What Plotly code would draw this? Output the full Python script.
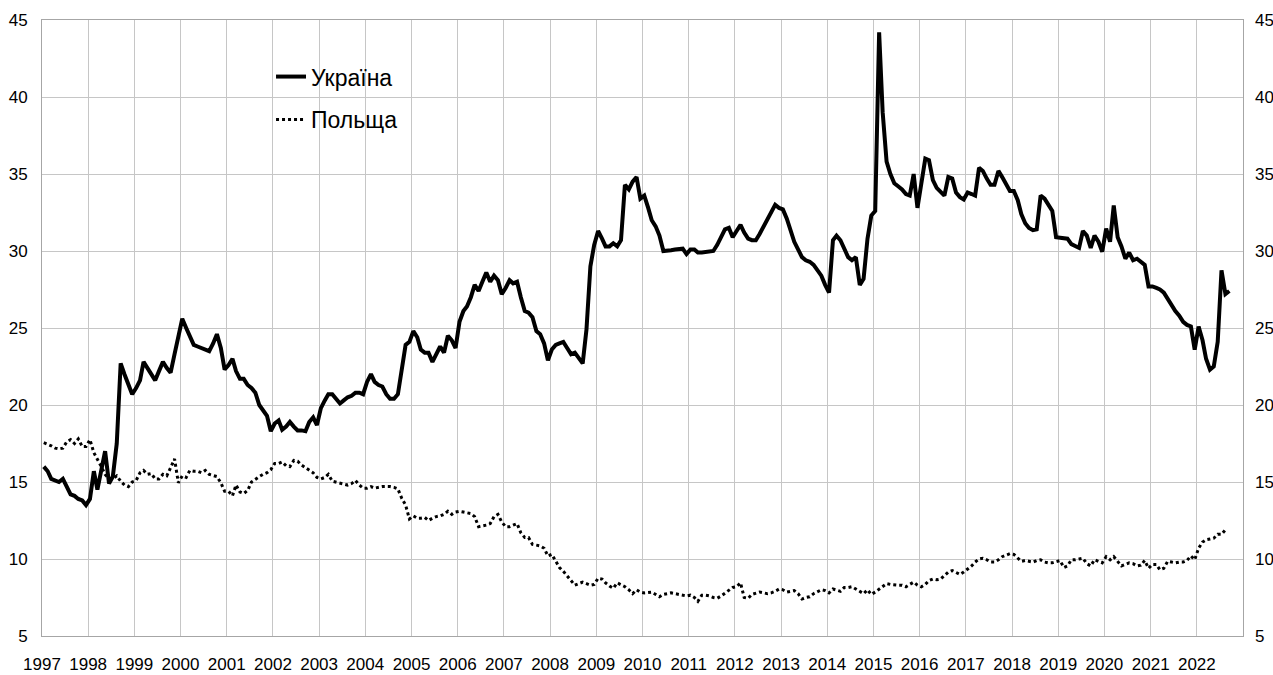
import pandas as pd
import plotly.graph_objects as go

# Monthly values, Jan 1997 onwards
ukraine = [
    16.0, 15.7, 15.2, 15.1, 15.0, 15.2, 14.7, 14.2, 14.1, 13.9, 13.8, 13.5,   # 1997
    13.9, 15.7, 14.5, 15.8, 17.0, 14.9, 15.35, 17.5, 22.7, 22.0, 21.3, 20.7,  # 1998
    21.1, 21.6, 22.8, 22.4, 22.0, 21.6, 22.2, 22.8, 22.4, 22.1, 23.3, 24.4,   # 1999
    25.6, 25.0, 24.4, 23.9, 23.8, 23.7, 23.6, 23.5, 24.0, 24.6, 23.7, 22.3,   # 2000
    22.6, 23.0, 22.2, 21.7, 21.7, 21.3, 21.1, 20.8, 20.0, 19.7, 19.3, 18.3,   # 2001
    18.8, 19.0, 18.4, 18.6, 18.9, 18.6, 18.35, 18.35, 18.3, 18.9, 19.2, 18.7, # 2002
    19.8, 20.3, 20.7, 20.7, 20.4, 20.1, 20.3, 20.5, 20.6, 20.8, 20.8, 20.7,   # 2003
    21.5, 22.0, 21.5, 21.3, 21.2, 20.7, 20.4, 20.4, 20.7, 22.2, 23.9, 24.1,   # 2004
    24.8, 24.4, 23.6, 23.4, 23.4, 22.8, 23.3, 23.8, 23.4, 24.5, 24.2, 23.7,   # 2005
    25.4, 26.1, 26.4, 27.0, 27.8, 27.4, 28.0, 28.6, 28.0, 28.4, 28.1, 27.2,   # 2006
    27.6, 28.1, 27.9, 28.0, 27.0, 26.1, 26.0, 25.7, 24.8, 24.6, 24.0, 22.9,   # 2007
    23.6, 23.9, 24.0, 24.1, 23.7, 23.3, 23.4, 23.1, 22.7, 24.9, 29.0, 30.4,   # 2008
    31.3, 30.8, 30.3, 30.3, 30.5, 30.3, 30.7, 34.3, 34.0, 34.5, 34.8, 33.4,   # 2009
    33.6, 32.8, 32.0, 31.6, 31.0, 30.0, 30.0, 30.05, 30.1, 30.15, 30.15, 29.8,# 2010
    30.1, 30.1, 29.9, 29.9, 29.95, 29.95, 30.0, 30.4, 30.9, 31.4, 31.5, 30.9, # 2011
    31.3, 31.7, 31.2, 30.8, 30.7, 30.7, 31.1, 31.6, 32.0, 32.6, 33.0, 32.8,   # 2012
    32.7, 32.1, 31.3, 30.6, 30.1, 29.6, 29.4, 29.3, 29.1, 28.8, 28.4, 27.8,   # 2013
    27.3, 30.7, 31.0, 30.7, 30.2, 29.6, 29.4, 29.6, 27.8, 28.2, 30.8, 32.3,   # 2014
    32.6, 44.2, 39.0, 35.8, 35.0, 34.4, 34.2, 34.0, 33.7, 33.6, 35.0, 32.8,   # 2015
    34.4, 36.0, 35.9, 34.6, 34.1, 33.8, 33.6, 34.8, 34.7, 33.8, 33.5, 33.35,  # 2016
    33.8, 33.7, 33.6, 35.4, 35.2, 34.7, 34.3, 34.3, 35.2, 34.8, 34.4, 33.9,   # 2017
    33.9, 33.3, 32.4, 31.8, 31.5, 31.35, 31.4, 33.6, 33.4, 33.0, 32.6, 30.9,  # 2018
    30.85, 30.8, 30.8, 30.45, 30.3, 30.2, 31.3, 31.0, 30.2, 31.0, 30.6, 29.95,# 2019
    31.45, 30.6, 32.95, 30.9, 30.3, 29.5, 29.9, 29.4, 29.5, 29.3, 29.1, 27.7, # 2020
    27.7, 27.6, 27.5, 27.3, 26.9, 26.4, 26.1, 25.8, 25.4, 25.2, 25.1, 23.6,   # 2021
    25.1, 24.2, 23.0, 22.3, 22.5, 24.1, 28.75, 27.2, 27.4,                    # 2022
]

poland = [
    17.55, 17.45, 17.35, 17.2, 17.15, 17.2, 17.6, 17.75, 17.5, 17.8, 17.3, 17.3,  # 1997
    17.75, 16.9, 16.5, 16.0, 15.5, 15.2, 15.2, 15.4, 15.05, 14.8, 14.7, 15.0,     # 1998
    15.1, 15.6, 15.75, 15.5, 15.55, 15.2, 15.2, 15.5, 15.4, 16.0, 16.5, 14.95,    # 1999
    15.4, 15.3, 15.75, 15.7, 15.7, 15.6, 15.75, 15.5, 15.4, 15.35, 14.95, 14.4,   # 2000
    14.4, 14.1, 14.8, 14.35, 14.25, 14.45, 15.0, 15.2, 15.35, 15.5, 15.6, 15.8,   # 2001
    16.2, 16.2, 16.3, 16.05, 16.0, 16.4, 16.35, 16.1, 15.95, 15.8, 15.6, 15.3,    # 2002
    15.2, 15.3, 15.5, 15.05, 15.0, 14.9, 14.85, 14.8, 14.9, 15.1, 14.8, 14.6,     # 2003
    14.6, 14.7, 14.6, 14.65, 14.7, 14.7, 14.7, 14.65, 14.55, 13.95, 13.5, 12.6,   # 2004
    12.8, 12.65, 12.65, 12.7, 12.5, 12.65, 12.75, 12.8, 12.9, 13.1, 12.9, 13.05,  # 2005
    13.1, 13.05, 13.0, 12.95, 12.75, 12.1, 12.15, 12.2, 12.3, 12.75, 12.9, 12.4,  # 2006
    12.1, 12.1, 12.2, 12.3, 11.7, 11.4, 11.4, 10.95, 10.9, 10.85, 10.7, 10.2,     # 2007
    10.3, 9.9, 9.45, 9.2, 8.9, 8.65, 8.3, 8.4, 8.5, 8.4, 8.3, 8.35,               # 2008
    8.75, 8.7, 8.45, 8.25, 8.1, 8.45, 8.35, 8.2, 8.0, 7.75, 8.0, 7.85,            # 2009
    7.8, 7.85, 7.85, 7.7, 7.55, 7.7, 7.75, 7.8, 7.75, 7.7, 7.65, 7.6,             # 2010
    7.65, 7.5, 7.25, 7.65, 7.65, 7.6, 7.5, 7.45, 7.6, 7.8, 8.0, 8.15,             # 2011
    8.2, 8.45, 7.5, 7.45, 7.7, 7.8, 7.85, 7.8, 7.75, 7.8, 7.9, 8.05,              # 2012
    8.0, 7.85, 7.9, 7.95, 7.75, 7.4, 7.5, 7.55, 7.75, 7.9, 8.0, 7.95,             # 2013
    7.8, 8.05, 8.0, 7.9, 8.15, 8.15, 8.2, 8.05, 7.95, 7.75, 8.0, 7.7,             # 2014
    7.85, 8.05, 8.25, 8.4, 8.35, 8.3, 8.3, 8.3, 8.2, 8.35, 8.5, 8.3,              # 2015
    8.2, 8.35, 8.6, 8.7, 8.65, 8.7, 8.95, 9.15, 9.25, 9.15, 9.0, 9.15,            # 2016
    9.35, 9.55, 9.8, 10.0, 10.05, 9.95, 9.8, 9.8, 9.95, 10.15, 10.25, 10.35,      # 2017
    10.3, 10.05, 9.85, 9.9, 9.85, 9.8, 9.9, 9.95, 9.8, 9.75, 9.75, 9.8,           # 2018
    9.9, 9.45, 9.55, 9.95, 9.95, 10.0, 10.05, 9.7, 9.55, 9.95, 9.85, 9.75,        # 2019
    10.15, 9.95, 10.15, 9.85, 9.55, 9.65, 9.75, 9.7, 9.55, 9.6, 9.9, 9.4,         # 2020
    9.65, 9.65, 9.3, 9.4, 9.85, 9.8, 9.75, 9.8, 9.8, 9.9, 10.2, 9.95,             # 2021
    10.7, 11.1, 11.25, 11.3, 11.35, 11.6, 11.6, 11.9,                             # 2022
]

years = list(range(1997, 2023))
y_ticks = [5, 10, 15, 20, 25, 30, 35, 40, 45]
series_names = ["Україна", "Польща"]

dates = pd.date_range("1997-01-01", periods=len(ukraine), freq="MS") + pd.Timedelta(days=14)

FONT = "Liberation Sans, Arial, sans-serif"
GRID = "#c6c6c6"
LINE = "#a6a6a6"

fig = go.Figure()
fig.add_trace(go.Scatter(
    x=dates, y=ukraine, mode="lines", name=series_names[0], legendgroup="ua",
    line=dict(color="black", width=4),
))
fig.add_trace(go.Scatter(
    x=dates[:len(poland)], y=poland, mode="lines", name=series_names[1], legendgroup="pl",
    line=dict(color="black", width=3, dash="dot"),
))
# invisible trace to carry the right-hand axis
fig.add_trace(go.Scatter(
    x=dates[:1], y=[None], yaxis="y2", showlegend=False, hoverinfo="skip",
    line=dict(color="black"),
))

tickvals_x = [pd.Timestamp(f"{y}-01-01") for y in years]

fig.update_layout(
    width=1273, height=675,
    margin=dict(l=42, r=30, t=20, b=39),
    paper_bgcolor="white", plot_bgcolor="white",
    font=dict(family=FONT, size=17, color="black"),
    showlegend=True,
    legend=dict(
        x=0.1907, y=0.943, xanchor="left", yanchor="top",
        font=dict(family=FONT, size=23, color="black"),
        bgcolor="rgba(0,0,0,0)", tracegroupgap=10, itemwidth=30,
    ),
    xaxis=dict(
        type="date", automargin=False,
        range=[pd.Timestamp("1997-01-01"), pd.Timestamp("2023-01-01")],
        tickvals=tickvals_x, ticktext=[str(y) for y in years],
        showgrid=True, gridcolor=GRID, gridwidth=1,
        showline=True, linecolor=LINE, linewidth=1, mirror=True,
        ticks="", ticklabelstandoff=13,
        tickfont=dict(family=FONT, size=17, color="black"),
        zeroline=False,
    ),
    yaxis=dict(
        automargin=False,
        range=[5, 45], tickvals=y_ticks, ticktext=[str(v) for v in y_ticks],
        showgrid=True, gridcolor=GRID, gridwidth=1,
        showline=True, linecolor=LINE, linewidth=1, mirror=True,
        ticks="", ticklabelstandoff=10,
        tickfont=dict(family=FONT, size=17, color="black"),
        zeroline=False,
    ),
    yaxis2=dict(
        automargin=False,
        range=[5, 45], tickvals=y_ticks, ticktext=[str(v) for v in y_ticks],
        overlaying="y", side="right", showgrid=False, zeroline=False,
        ticks="", ticklabelstandoff=11,
        tickfont=dict(family=FONT, size=17, color="black"),
    ),
)

fig.write_html(
    "out.html",
    config={"displayModeBar": False},
    post_script="document.body.style.margin='0';document.body.style.padding='0';",
)
